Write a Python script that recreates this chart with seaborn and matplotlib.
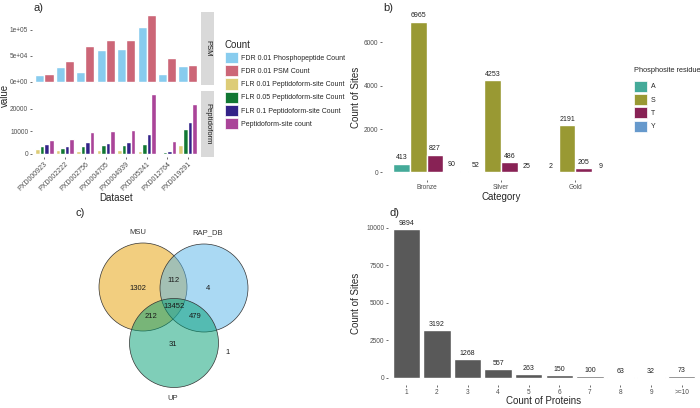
import numpy as np
import pandas as pd
import seaborn as sns
import matplotlib.pyplot as plt
from matplotlib.patches import Patch, Circle

# ---- data -------------------------------------------------------------
datasets = ['PXD000923', 'PXD002222', 'PXD002756', 'PXD004705',
            'PXD004939', 'PXD005241', 'PXD012764', 'PXD019291']
phospho_count = [12000, 28700, 18000, 60700, 62700, 106000, 14000, 30700]
psm_count = [15300, 39300, 69300, 80000, 81300, 128000, 45300, 32000]
flr01_count = [2100, 1800, 1400, 1800, 1900, 1400, 600, 4000]
flr05_count = [3500, 2600, 3600, 3900, 4000, 4600, 1100, 11000]
flr1_count = [4200, 3600, 5400, 5000, 5300, 8900, 1500, 13900]
site_count = [6000, 6800, 9700, 10300, 10700, 26400, 5600, 22200]

count_names = ['FDR 0.01 Phosphopeptide Count', 'FDR 0.01 PSM Count',
               'FLR 0.01 Peptidoform-site Count', 'FLR 0.05 Peptidoform-site Count',
               'FLR 0.1 Peptidoform-site Count', 'Peptidoform-site count']
count_colors = ['#88CCEE', '#CC6677', '#DDCC77', '#117733', '#332288', '#AA4499']

categories = ['Bronze', 'Silver', 'Gold']
residues = ['A', 'S', 'T', 'Y']
res_A = [413, 52, 2]
res_S = [6965, 4253, 2191]
res_T = [827, 486, 205]
res_Y = [90, 25, 9]
residue_colors = ['#44AA99', '#999933', '#882255', '#6699CC']

venn_sets = ['MSU', 'RAP_DB', 'UP']
venn_colors = ['#E69F00', '#56B4E9', '#009E73']
venn_counts = {'MSU': 1302, 'RAP_DB': 4, 'UP': 31, 'MSU&RAP_DB': 112,
               'MSU&UP': 212, 'RAP_DB&UP': 479, 'all': 13452, 'none': 1}

protein_bins = ['1', '2', '3', '4', '5', '6', '7', '8', '9', '>=10']
site_per_bin = [9894, 3192, 1268, 557, 263, 150, 100, 63, 32, 73]

# ---- setup -------------------------------------------------------------
sns.set_theme(style='white')
plt.rcParams['font.family'] = ['Liberation Sans', 'DejaVu Sans']

W, H = 700, 408
fig = plt.figure(figsize=(W / 100, H / 100), dpi=100)


def px_axes(x0, y0, x1, y1):
    return fig.add_axes([x0 / W, 1 - y1 / H, (x1 - x0) / W, (y1 - y0) / H])


def gg_style(ax):
    for s in ax.spines.values():
        s.set_visible(False)
    ax.tick_params(length=1.5, width=0.5, color='#333333', labelsize=4.7,
                   labelcolor='#4D4D4D', pad=1.2, bottom=True, left=True)
    ax.grid(False)


# ---- panel a -----------------------------------------------------------
df_a = pd.DataFrame({'Dataset': datasets,
                     count_names[0]: phospho_count, count_names[1]: psm_count,
                     count_names[2]: flr01_count, count_names[3]: flr05_count,
                     count_names[4]: flr1_count, count_names[5]: site_count})
df_a = df_a.melt(id_vars='Dataset', var_name='Count', value_name='value')
pal_a = dict(zip(count_names, count_colors))

ax_psm = px_axes(32, 12, 200, 85)
sns.barplot(data=df_a[df_a['Count'].isin(count_names[:2])], x='Dataset', y='value',
            hue='Count', hue_order=count_names[:2], order=datasets, palette=pal_a,
            width=0.9, saturation=1, errorbar=None, legend=False, ax=ax_psm)
gg_style(ax_psm)
ax_psm.set_xlim(-0.6, 7.6)
ax_psm.set_ylim(-6400, 134400)
ax_psm.set_yticks([0, 50000, 100000], labels=['0e+00', '5e+04', '1e+05'])
ax_psm.set_xticks([])
ax_psm.set_xlabel('')
ax_psm.set_ylabel('')

ax_pep = px_axes(32, 91, 200, 157)
sns.barplot(data=df_a[df_a['Count'].isin(count_names[2:])], x='Dataset', y='value',
            hue='Count', hue_order=count_names[2:], order=datasets, palette=pal_a,
            width=0.9, saturation=1, errorbar=None, legend=False, ax=ax_pep)
gg_style(ax_pep)
ax_pep.set_xlim(-0.6, 7.6)
ax_pep.set_ylim(-1320, 27720)
ax_pep.set_yticks([0, 10000, 20000], labels=['0', '10000', '20000'])
ax_pep.set_xticks(range(len(datasets)), labels=datasets, rotation=45, ha='right',
                  rotation_mode='anchor', fontsize=5)
ax_pep.set_ylabel('')
ax_pep.set_xlabel('Dataset', fontsize=7, labelpad=0)

for (y0, y1, name) in [(12, 85, 'PSM'), (91, 157, 'Peptidoform')]:
    sx = px_axes(201, y0, 214, y1)
    sx.set_facecolor('#D9D9D9')
    sx.set_xticks([])
    sx.set_yticks([])
    for s in sx.spines.values():
        s.set_visible(False)
    sx.text(0.5, 0.5, name, rotation=270, ha='center', va='center', fontsize=5.5,
            color='#1A1A1A', transform=sx.transAxes)

fig.text(5 / W, 1 - 95 / H, 'value', rotation=90, ha='center', va='center', fontsize=7)
fig.text(33 / W, 1 - 8 / H, 'a)', ha='left', va='center', fontsize=8)

handles_a = [Patch(facecolor=c, edgecolor='white', linewidth=0.5) for c in count_colors]
leg_a = fig.legend(handles_a, count_names, loc='upper left',
                   bbox_to_anchor=(222 / W, 1 - 37 / H), title='Count', frameon=False,
                   fontsize=5, title_fontsize=7, handlelength=1.9, handleheight=2.1,
                   labelspacing=0.3, handletextpad=0.5, borderaxespad=0, alignment='left')

# ---- panel b -----------------------------------------------------------
df_b = pd.DataFrame({'Category': categories, 'A': res_A, 'S': res_S, 'T': res_T, 'Y': res_Y})
df_b = df_b.melt(id_vars='Category', var_name='Phosphosite residue', value_name='Count')

ax_b = px_axes(382, 14, 620, 180)
sns.barplot(data=df_b, x='Category', y='Count', hue='Phosphosite residue',
            hue_order=residues, order=categories,
            palette=dict(zip(residues, residue_colors)), width=0.9, saturation=1,
            errorbar=None, legend=False, ax=ax_b)
gg_style(ax_b)
for cont in ax_b.containers:
    ax_b.bar_label(cont, fmt='%d', padding=1.5, fontsize=5, color='#222222')
ax_b.set_xlim(-0.6, 2.6)
ax_b.set_ylim(-348, 7313)
ax_b.set_yticks([0, 2000, 4000, 6000])
ax_b.set_xlabel('Category', fontsize=7, labelpad=1)
ax_b.set_ylabel('Count of Sites', fontsize=7)
ax_b.yaxis.set_label_coords(-0.09, 0.5)
fig.text(383 / W, 1 - 8 / H, 'b)', ha='left', va='center', fontsize=8)

handles_b = [Patch(facecolor=c, edgecolor='white', linewidth=0.5) for c in residue_colors]
leg_b = fig.legend(handles_b, residues, loc='upper left', bbox_to_anchor=(631 / W, 1 - 64 / H),
                   title='Phosphosite residue', frameon=False, fontsize=5, title_fontsize=5.3,
                   handlelength=1.9, handleheight=2.1, labelspacing=0.3, handletextpad=0.6,
                   borderaxespad=0, alignment='left')
leg_b._legend_box.sep = 5

# ---- panel c (venn) ----------------------------------------------------
ax_c = px_axes(0, 200, 340, 408)
ax_c.set_xlim(0, 340)
ax_c.set_ylim(408, 200)
ax_c.set_axis_off()
circle_layout = {'MSU': (143, 287, 44), 'RAP_DB': (204, 288, 44), 'UP': (174, 343, 44.5)}
for name, col in zip(venn_sets, venn_colors):
    cx, cy, r = circle_layout[name]
    ax_c.add_patch(Circle((cx, cy), r, facecolor=col, alpha=0.5, edgecolor='none'))
    ax_c.add_patch(Circle((cx, cy), r, facecolor='none', edgecolor='#333333', linewidth=0.5))
set_label_pos = {'MSU': (138, 233), 'RAP_DB': (208, 233), 'UP': (173, 398)}
for name in venn_sets:
    ax_c.text(*set_label_pos[name], name, ha='center', va='center', fontsize=5.5,
              color='#333333')
region_pos = {'MSU': (138, 289), 'RAP_DB': (208, 289), 'UP': (173, 344),
              'MSU&RAP_DB': (174, 281), 'MSU&UP': (151, 317), 'RAP_DB&UP': (195, 316),
              'all': (174, 307), 'none': (228, 352)}
for key, val in venn_counts.items():
    ax_c.text(*region_pos[key], str(val), ha='center', va='center', fontsize=5.5,
              color='#1A1A1A')
fig.text(76 / W, 1 - 213 / H, 'c)', ha='left', va='center', fontsize=8)

# ---- panel d -----------------------------------------------------------
ax_d = px_axes(388, 222, 700, 385)
sns.barplot(x=protein_bins, y=site_per_bin, order=protein_bins, color='#595959',
            width=0.9, saturation=1, errorbar=None, ax=ax_d)
gg_style(ax_d)
for cont in ax_d.containers:
    ax_d.bar_label(cont, fmt='%d', padding=1.5, fontsize=5, color='#222222')
ax_d.set_xlim(-0.6, 9.6)
ax_d.set_ylim(-495, 10389)
ax_d.set_yticks([0, 2500, 5000, 7500, 10000])
ax_d.set_xlabel('Count of Proteins', fontsize=7, labelpad=0)
ax_d.set_ylabel('Count of Sites', fontsize=7)
ax_d.yaxis.set_label_coords(-0.085, 0.5)
fig.text(390 / W, 1 - 213 / H, 'd)', ha='left', va='center', fontsize=8)

fig.savefig('out.png', dpi=100)
